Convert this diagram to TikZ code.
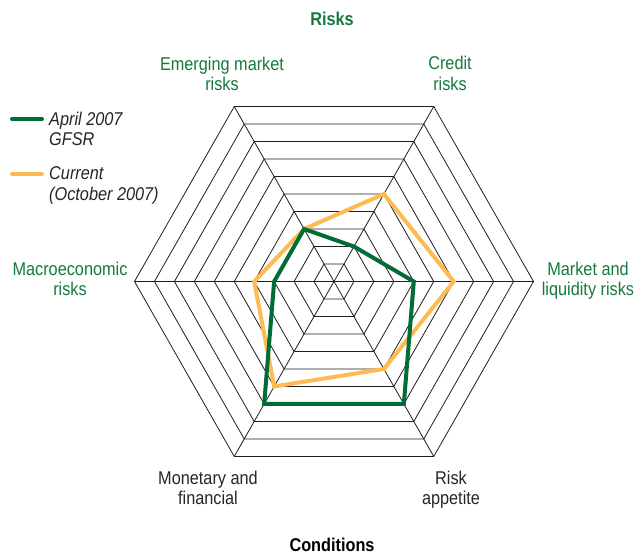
\documentclass[tikz,border=0pt]{standalone}
\usepackage{fontspec}
\setmainfont{Liberation Sans}[FakeStretch=0.88]
\definecolor{txtgreen}{RGB}{22,122,64}
\definecolor{datagreen}{RGB}{0,108,56}
\definecolor{dataorange}{RGB}{253,187,82}
\definecolor{gridcol}{RGB}{30,30,30}
\begin{document}
\begin{tikzpicture}[x=1bp,y=-1bp,
  lbl/.style={font=\fontsize{18.5bp}{20.5bp}\selectfont, align=center, anchor=base, inner sep=0pt},
  ttl/.style={font=\fontsize{18.5bp}{20.5bp}\selectfont\bfseries, anchor=base, inner sep=0pt},
  leg/.style={font=\fontsize{18.5bp}{20.5bp}\selectfont\itshape, align=left, anchor=base west, inner sep=0pt, text=black!85},
  gridline/.style={draw=gridcol, line width=0.8bp},
  gline/.style={draw=datagreen, line width=4bp, line join=miter},
  oline/.style={draw=dataorange, line width=4bp, line join=miter}]
\useasboundingbox (0,0) rectangle (639,554);
\fill[white] (0,0) rectangle (639,554);
% chart
\begin{scope}[shift={(334,281.5)}, x=19.95bp, y=20.2bp]
  \foreach \k in {1,...,10}
    \draw[gridline] (0:\k) -- (60:\k) -- (120:\k) -- (180:\k) -- (240:\k) -- (300:\k) -- cycle;
  \coordinate (v0) at (0:10);
  \coordinate (v1) at (60:10);
  \coordinate (v2) at (120:10);
  \coordinate (v3) at (180:10);
  \coordinate (v4) at (240:10);
  \coordinate (v5) at (300:10);
  \draw[gridline] (v0) -- (v3);
  \draw[gridline] (v1) -- (v4);
  \draw[gridline] (v2) -- (v5);
  \draw[oline] (0:6) -- (60:5) -- (120:3) -- (180:4) -- (240:6) -- (300:5) -- cycle;
  \draw[gline] (0:4) -- (60:2) -- (120:3) -- (180:3) -- (240:7) -- (300:7) -- cycle;
\end{scope}
% titles
\node[ttl, text=txtgreen] (risks) at (332,26) {Risks};
\node[ttl, text=black] (cond) at (332,551.5) {Conditions};
% axis labels
\node[lbl, text=txtgreen] (emerg) at (222,91) {Emerging market\\risks};
\node[lbl, text=txtgreen] (credit) at (450,90.5) {Credit\\risks};
\node[lbl, text=txtgreen] (macro) at (70,295.5) {Macroeconomic\\risks};
\node[lbl, text=txtgreen] (market) at (588,295.5) {Market and\\liquidity risks};
\node[lbl, text=black!85] (monet) at (208,504.5) {Monetary and\\financial};
\node[lbl, text=black!85] (appet) at (451,504.5) {Risk\\appetite};
% legend
\coordinate (lgA) at (12,119);
\coordinate (lgB) at (42,119);
\coordinate (loA) at (12,174);
\coordinate (loB) at (42,174);
\draw[draw=datagreen, line width=4bp, line cap=round] (lgA) -- (lgB);
\draw[draw=dataorange, line width=4bp, line cap=round] (loA) -- (loB);
\node[leg] (legg) at (49,146) {April 2007\\GFSR};
\node[leg] (lego) at (49,200.5) {Current\\(October 2007)};
\end{tikzpicture}
\end{document}
